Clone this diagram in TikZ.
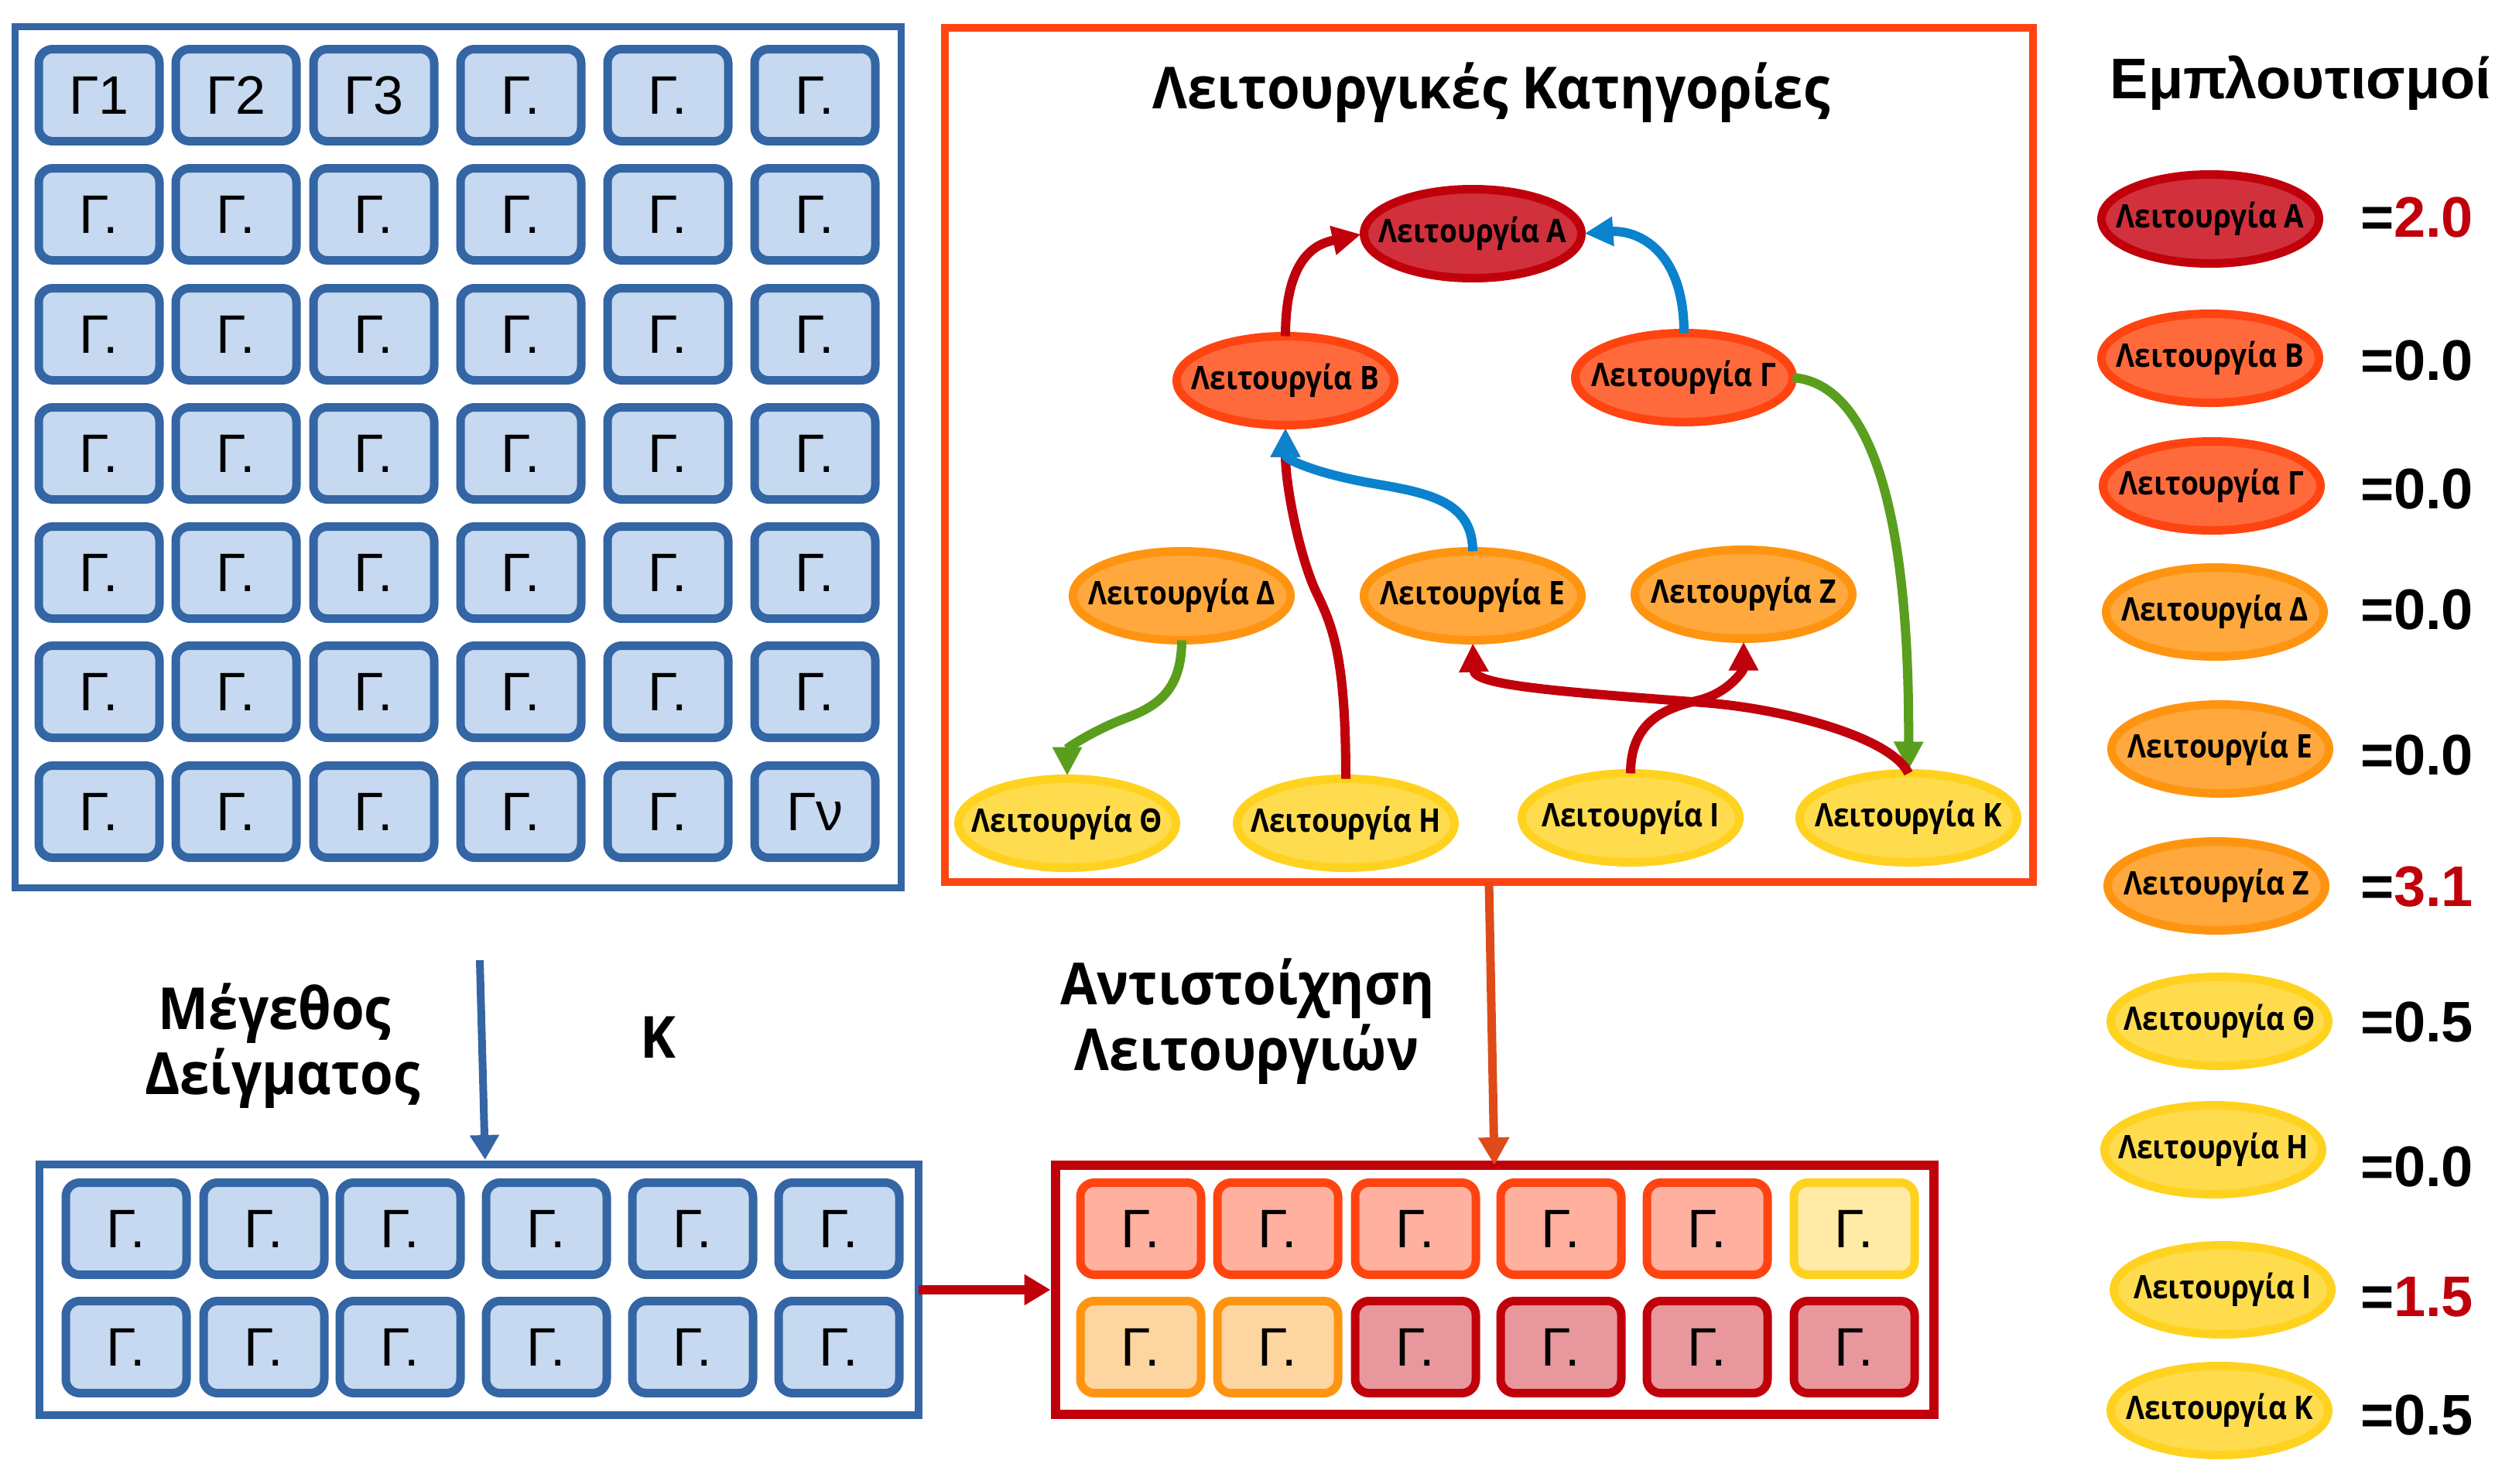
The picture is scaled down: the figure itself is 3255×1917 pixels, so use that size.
\documentclass[tikz,border=0pt]{standalone}
\usepackage{fontspec}
\setmainfont{Liberation Sans}
\newfontfamily\cfont[FakeStretch=0.92]{Open Sans}
\newfontfamily\cnfont[FakeStretch=0.88]{Open Sans}
\usetikzlibrary{arrows.meta,shapes.geometric}
\definecolor{gbord}{HTML}{3465A4}
\definecolor{gfill}{HTML}{C6D9F0}
\definecolor{rdark}{HTML}{C0000B}
\definecolor{rfillA}{HTML}{D0313D}
\definecolor{oring}{HTML}{FF4411}
\definecolor{ofill}{HTML}{FF6A3D}
\definecolor{lring}{HTML}{FF9411}
\definecolor{lfill}{HTML}{FFA83E}
\definecolor{yring}{HTML}{FFD220}
\definecolor{yfill}{HTML}{FFDC4E}
\definecolor{ablue}{HTML}{0A82CE}
\definecolor{agreen}{HTML}{5A9E1E}
\definecolor{aorange}{HTML}{DE4B18}
\definecolor{csalmon}{HTML}{FFB09F}
\definecolor{cyellow}{HTML}{FFEBA5}
\definecolor{corange}{HTML}{FDD5A0}
\definecolor{cpink}{HTML}{E8989C}
\begin{document}
\begin{tikzpicture}[x=1pt,y=-1pt,
  every node/.style={inner sep=0pt,outer sep=0pt},
  cellbase/.style={draw,line width=11pt,rounded corners=18pt,minimum width=156pt,minimum height=119pt,font=\fontsize{70}{80}\selectfont},
  gcell/.style={cellbase,draw=gbord,fill=gfill},
  scell/.style={cellbase,draw=oring,fill=csalmon},
  ycell/.style={cellbase,draw=yring,fill=cyellow},
  ocell/.style={cellbase,draw=lring,fill=corange},
  pcell/.style={cellbase,draw=rdark,fill=cpink},
  fnode/.style={ellipse,draw,line width=11pt,minimum width=281pt,minimum height=115pt,
     font=\cnfont\bfseries\fontsize{42}{50}\selectfont,
     execute at begin node={\hbox to 0pt\bgroup\hss},
     execute at end node={\hss\egroup}},
  fa/.style={fnode,draw=rdark,fill=rfillA},
  fb/.style={fnode,draw=oring,fill=ofill},
  fc/.style={fnode,draw=lring,fill=lfill},
  fy/.style={fnode,draw=yring,fill=yfill},
  garrow/.style={line width=12pt,-{Triangle[length=37pt,width=36pt]},shorten >=4pt},
  bigtext/.style={font=\cfont\bfseries\fontsize{75}{84}\selectfont,anchor=base},
  valtext/.style={font=\bfseries\fontsize{74}{80}\selectfont,anchor=base west},
  obox/.style={draw,rectangle}
  ]
\useasboundingbox (0,0) rectangle (3255,1917);

% ---------- outer boxes
\node[obox,draw=gbord,line width=9pt,minimum width=1145pt,minimum height=1113pt] (gbox) at (592,591) {};
\node[obox,draw=oring,line width=10pt,minimum width=1406pt,minimum height=1104pt] (tbox) at (1924,588) {};
\node[obox,draw=gbord,line width=10pt,minimum width=1136pt,minimum height=324pt] (lbox) at (619,1667) {};
\node[obox,draw=rdark,line width=12pt,minimum width=1135pt,minimum height=322pt] (rbox) at (1931,1667) {};

% ---------- gene grid
\foreach \yy [count=\r] in {123,277,432,586,740,894,1049}{
  \foreach \xx [count=\c] in {128,305,483,673,863,1053}{
    \def\lab{Γ.}
    \ifnum\r=1 \ifnum\c<4 \edef\lab{Γ\c}\fi\fi
    \ifnum\r=7 \ifnum\c=6 \def\lab{Γν}\fi\fi
    \node[gcell] (g\r\c) at (\xx,\yy) {\lab};
  }
}

% ---------- sample cells
\foreach \yy [count=\r] in {1588,1741}{
  \foreach \xx [count=\c] in {163,341,517,706,895,1084}{
    \node[gcell] (s\r\c) at (\xx,\yy) {Γ.};
  }
}

% ---------- mapped cells
\foreach \xx/\st [count=\c] in {1474/scell,1651/scell,1829/scell,2017/scell,2206/scell,2396/ycell}{
  \node[\st] (m1\c) at (\xx,1588) {Γ.};
}
\foreach \xx/\st [count=\c] in {1474/ocell,1651/ocell,1829/pcell,2017/pcell,2206/pcell,2396/pcell}{
  \node[\st] (m2\c) at (\xx,1741) {Γ.};
}

% ---------- category graph
\node[font=\cfont\bfseries\fontsize{75}{84}\selectfont,anchor=base] (title) at (1927,140) {Λειτουργικές Κατηγορίες};
\node[fa] (fA) at (1903,302) {Λειτουργία Α};
\node[fb] (fB) at (1661,492) {Λειτουργία Β};
\node[fb] (fG) at (2176,488) {Λειτουργία Γ};
\node[fc] (fD) at (1527,770) {Λειτουργία Δ};
\node[fc] (fE) at (1903,770) {Λειτουργία Ε};
\node[fc] (fZ) at (2253,768) {Λειτουργία Ζ};
\node[fy] (fTh) at (1379,1064) {Λειτουργία Θ};
\node[fy] (fH) at (1739,1064) {Λειτουργία Η};
\node[fy] (fI) at (2107,1057) {Λειτουργία Ι};
\node[fy] (fK) at (2466,1057) {Λειτουργία Κ};

\coordinate (m1) at (1775,625);
\coordinate (m2) at (1702,768);
\coordinate (m3) at (1455,928);
\coordinate (m4) at (2200,908);
\coordinate (m5) at (2195,905);

\draw[garrow,draw=rdark] (fB.north) .. controls +(0,-110) and +(-55,12) .. (fA.west);
\draw[garrow,draw=ablue] (fG.north) .. controls +(0,-110) and +(70,-5) .. (fA.east);
\draw[garrow,draw=rdark] (fH.north) .. controls +(0,-150) and +(22,45) .. (m2) .. controls +(-22,-45) and +(0,80) .. (fB.south);
\draw[garrow,draw=ablue] (fE.north) .. controls +(0,-65) and +(70,12) .. (m1) .. controls +(-70,-12) and +(0,45) .. (fB.south);
\draw[garrow,draw=agreen] (fG.east) .. controls (2410,495) and (2468,640) .. (fK.north);
\draw[garrow,draw=agreen] (fD.south) .. controls +(0,65) and +(40,-15) .. (m3) .. controls +(-40,15) and +(0,-40) .. (fTh.north);
\draw[garrow,draw=rdark] (fK.north) .. controls +(-20,-45) and +(110,8) .. (m4) .. controls (2000,893) and (1905,885) .. (fE.south);
\draw[garrow,draw=rdark] (fI.north) .. controls +(0,-70) and +(-40,10) .. (m5) .. controls +(40,-10) and +(0,40) .. (fZ.south);

% ---------- lower texts and arrows
\node[bigtext] (ms1) at (355,1330) {Μέγεθος};
\node[bigtext] (ms2) at (365,1414) {Δείγματος};
\node[bigtext] (kk) at (850,1367) {Κ};
\node[bigtext] (at1) at (1612,1298) {Αντιστοίχηση};
\node[bigtext] (at2) at (1611,1383) {Λειτουργιών};

\coordinate (kstart) at (620,1241);
\draw[draw=gbord,line width=10pt,-{Triangle[length=32pt,width=36pt]},shorten >=6pt] (kstart) -- ([xshift=8pt]lbox.north);
\draw[draw=aorange,line width=11pt,-{Triangle[length=36pt,width=38pt]}] (tbox.south) -- (rbox.north);
\draw[draw=rdark,line width=12pt,-{Triangle[length=34pt,width=38pt]},shorten >=6pt] (lbox.east) -- (rbox.west);

% ---------- legend
\node[font=\bfseries\fontsize{74}{80}\selectfont,anchor=base] (ltitle) at (2973,127) {Εμπλουτισμοί};
\node[fa] (lA) at (2856,283) {Λειτουργία Α};
\node[fb] (lB) at (2856,463) {Λειτουργία Β};
\node[fb] (lG) at (2858,628) {Λειτουργία Γ};
\node[fc] (lD) at (2862,791) {Λειτουργία Δ};
\node[fc] (lE) at (2869,968) {Λειτουργία Ε};
\node[fc] (lZ) at (2864,1145) {Λειτουργία Ζ};
\node[fy] (lTh) at (2868,1320) {Λειτουργία Θ};
\node[fy] (lH) at (2860,1486) {Λειτουργία Η};
\node[fy] (lI) at (2872,1667) {Λειτουργία Ι};
\node[fy] (lK) at (2868,1823) {Λειτουργία Κ};

\node[valtext] (vA) at (3050,306) {=\textcolor{rdark}{2.0}};
\node[valtext] (vB) at (3050,491) {=0.0};
\node[valtext] (vG) at (3050,657) {=0.0};
\node[valtext] (vD) at (3050,813) {=0.0};
\node[valtext] (vE) at (3050,1001) {=0.0};
\node[valtext] (vZ) at (3050,1171) {=\textcolor{rdark}{3.1}};
\node[valtext] (vTh) at (3050,1346) {=0.5};
\node[valtext] (vH) at (3050,1533) {=0.0};
\node[valtext] (vI) at (3050,1701) {=\textcolor{rdark}{1.5}};
\node[valtext] (vK) at (3050,1854) {=0.5};
\end{tikzpicture}
\end{document}
